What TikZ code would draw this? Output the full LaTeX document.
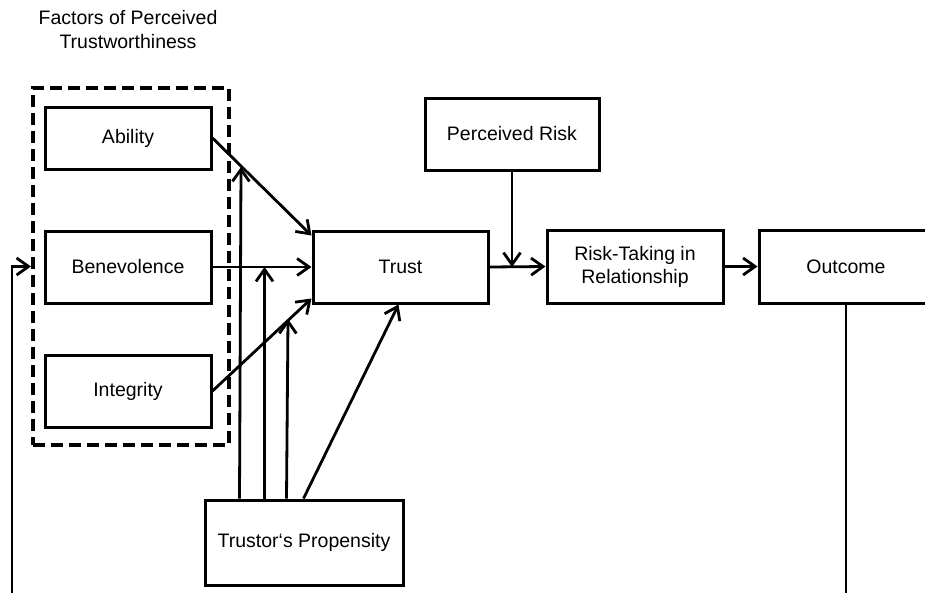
\documentclass[tikz,border=0pt]{standalone}
\usepackage{fontspec}
\setmainfont{Liberation Sans}
\usetikzlibrary{arrows.meta,calc}
\begin{document}
\begin{tikzpicture}[x=1pt,y=-1pt,
  box/.style={draw,line width=3pt,inner sep=0pt,align=center,font=\fontsize{19.5}{23}\selectfont},
  conn/.style={line width=2.8pt,-{Straight Barb[length=12pt,width=17pt,line width=2.8pt]}},
  plain/.style={line width=2.8pt},
  groupbox/.style={draw,line width=4pt,dash pattern=on 12pt off 6pt,inner sep=0pt},
  title/.style={align=center,font=\fontsize{19.5}{24}\selectfont,inner sep=0pt}]
\useasboundingbox (0,0) rectangle (925,592);
\clip (0,0) rectangle (925,592);

\node[title] (ttl) at (128,30) {Factors of Perceived\\Trustworthiness};
\node[groupbox,minimum width=196pt,minimum height=357pt] (factors) at (131,266.5) {};

\node[box,minimum width=166pt,minimum height=62pt] (abil) at (128,138) {Ability};
\node[box,minimum width=166pt,minimum height=72pt] (benev) at (128,267) {Benevolence};
\node[box,minimum width=166pt,minimum height=72pt] (integ) at (128,391) {Integrity};
\node[box,minimum width=175pt,minimum height=72pt] (trust) at (400.5,267) {Trust};
\node[box,minimum width=174pt,minimum height=72pt] (risk) at (512,134) {Perceived Risk};
\node[box,minimum width=176pt,minimum height=73pt] (rt) at (635,266.5) {Risk-Taking in\\Relationship};
\node[box,minimum width=174pt,minimum height=73pt] (out) at (846,266.5) {Outcome};
\node[box,minimum width=198pt,minimum height=85pt] (prop) at (304,542.5) {Trustor‘s Propensity};

% factor arrows
\coordinate (tA) at ($(trust.north west)+(0,6)$);
\coordinate (tI) at ($(trust.south west)+(0,-6)$);
\draw[conn] (abil.east) -- (tA);
\draw[conn] (benev.east) -- (trust.west);
\draw[conn] (integ.east) -- (tI);

% propensity arrows
\coordinate (p1) at ($(prop.north west)+(36,0)$);
\coordinate (p2) at ($(prop.north west)+(61,0)$);
\coordinate (p3) at ($(prop.north west)+(83,0)$);
\coordinate (p4) at ($(prop.north west)+(100,0)$);
\coordinate (j1) at (241,167);
\coordinate (j3) at (288,319);
\draw[conn] (p1) -- (j1);
\draw[conn] (p2) -- (p2 |- benev.east);
\draw[conn] (p3) -- (j3);
\draw[conn] (p4) -- ($(trust.south)+(-2,0)$);

% main chain
\draw[conn] (trust.east) -- (rt.west);
\draw[conn] (risk.south) -- (risk.south |- trust.east);
\draw[conn] (rt.east) -- (out.west);

% feedback loop
\coordinate (fb) at (12,605);
\draw[conn] (out.south) |- (fb) |- (factors.west);
\end{tikzpicture}
\end{document}
